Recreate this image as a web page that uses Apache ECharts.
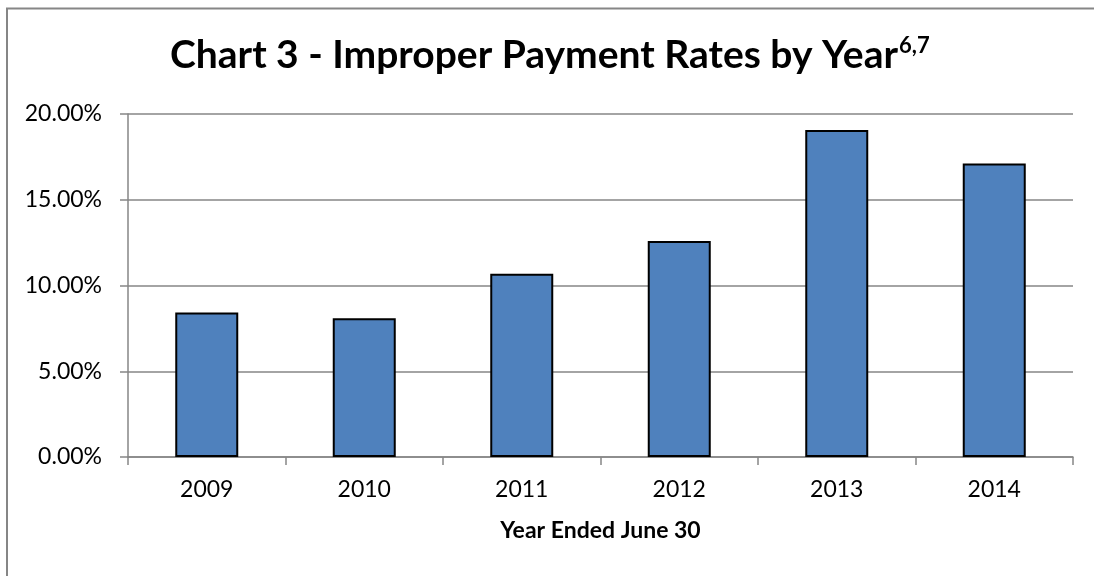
<!DOCTYPE html>
<html>
<head>
<meta charset="utf-8">
<script src="https://cdn.jsdelivr.net/npm/echarts@6/dist/echarts.min.js"></script>
<style>
  html, body { margin: 0; padding: 0; background: #fff; overflow: hidden; }
  #chart { width: 1094px; height: 576px; }
</style>
</head>
<body>
<div id="chart"></div>
<script>
// Improper payment rates (percent)
const years = ['2009', '2010', '2011', '2012', '2013', '2014']
const rates = [8.42, 8.09, 10.68, 12.59, 19.07, 17.12]

const FONT = 'Lato'
const GRAY = '#868686'

const chart = echarts.init(document.getElementById('chart'))

const option = {
  backgroundColor: '#fff',
  animation: false,
  title: {
    text: '{m|Chart 3 - Improper Payment Rates by Year}{s|6,7}',
    left: 170,
    top: 32,
    padding: 0,
    textStyle: {
      rich: {
        m: { fontFamily: FONT, fontWeight: 'bold', fontSize: 39, lineHeight: 46, color: '#000' },
        s: { fontFamily: FONT, fontWeight: 'bold', fontSize: 22, lineHeight: 46, color: '#000', verticalAlign: 'top', padding: [3, 0, 0, 1] }
      }
    }
  },
  // outer chart frame (only top/left edges fall inside the picture)
  graphic: [
    {
      type: 'rect',
      shape: { x: 7, y: 8.5, width: 1400, height: 900 },
      style: { fill: 'none', stroke: GRAY, lineWidth: 2 },
      silent: true
    }
  ],
  grid: {
    left: 128,
    right: 21,
    top: 114,
    bottom: 119
  },
  xAxis: {
    type: 'category',
    data: years,
    name: 'Year Ended June 30',
    nameLocation: 'middle',
    nameGap: 62,
    nameTextStyle: { fontFamily: FONT, fontWeight: 'bold', fontSize: 23, color: '#000' },
    axisLine: { show: true, lineStyle: { color: GRAY, width: 1.5 } },
    axisTick: { show: true, length: 8, lineStyle: { color: GRAY, width: 1.5 } },
    axisLabel: { fontFamily: FONT, fontSize: 23, color: '#000', margin: 21 }
  },
  yAxis: {
    type: 'value',
    min: 0,
    max: 20,
    interval: 5,
    axisLine: { show: true, lineStyle: { color: GRAY, width: 1.5 } },
    axisTick: { show: true, length: 8, lineStyle: { color: GRAY, width: 1.5 } },
    splitLine: { show: true, lineStyle: { color: GRAY, width: 1.5 } },
    axisLabel: {
      fontFamily: FONT,
      fontSize: 23,
      color: '#000',
      margin: 26,
      formatter: (v) => v.toFixed(2) + '%'
    }
  },
  series: [
    {
      type: 'bar',
      data: rates,
      barWidth: '40%',
      itemStyle: {
        color: '#4F81BD',
        borderColor: '#000',
        borderWidth: 2
      }
    }
  ]
}

chart.setOption(option)
</script>
</body>
</html>
